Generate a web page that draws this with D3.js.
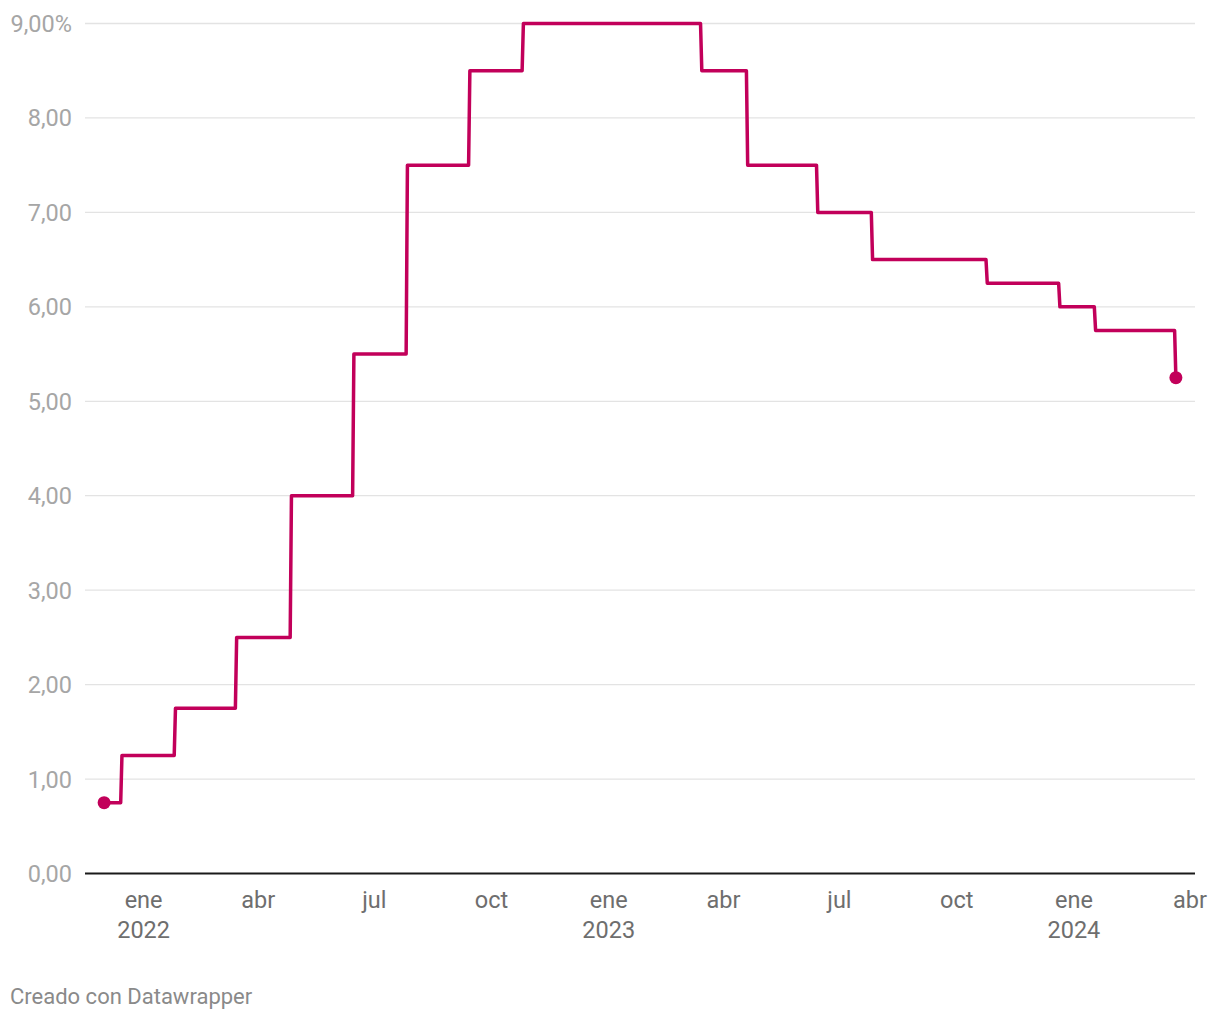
<!DOCTYPE html>
<html><head><meta charset="utf-8">
<script src="https://cdn.jsdelivr.net/npm/d3@7"></script>
<style>
body{margin:0;background:#fff;font-family:Roboto,"Noto Sans",sans-serif;}
</style></head>
<body><svg id="c" width="1220" height="1020"></svg>
<script>
// Change dates and rate values (%)
const changeDates = ["2021-12-01","2021-12-15","2022-01-26","2022-03-15","2022-04-27","2022-06-15","2022-07-27","2022-09-14","2022-10-26","2023-03-15","2023-04-20","2023-06-14","2023-07-27","2023-10-25","2023-12-21","2024-01-18","2024-03-21"];
const rates = [0.75,1.25,1.75,2.5,4.0,5.5,7.5,8.5,9.0,8.5,7.5,7.0,6.5,6.25,6.0,5.75,5.25];
const yTicks = [0,1,2,3,4,5,6,7,8,9];
const yTickLabels = ["0,00","1,00","2,00","3,00","4,00","5,00","6,00","7,00","8,00","9,00%"];
const xTickDates = ["2022-01-01","2022-04-01","2022-07-01","2022-10-01","2023-01-01","2023-04-01","2023-07-01","2023-10-01","2024-01-01","2024-04-01"];
const xTickLabels = [["ene","2022"],["abr"],["jul"],["oct"],["ene","2023"],["abr"],["jul"],["oct"],["ene","2024"],["abr"]];
const xDomain = ["2021-11-16","2024-04-05"];

const parse = d3.utcParse("%Y-%m-%d");
const svg = d3.select("#c");
const x = d3.scaleUtc().domain(xDomain.map(parse)).range([85,1195]);
const y = d3.scaleLinear().domain([0,9]).range([873.5,23.5]);

// gridlines
svg.append("g").selectAll("line").data(yTicks.filter(v=>v>0)).join("line")
  .attr("x1",85).attr("x2",1195).attr("y1",d=>y(d)).attr("y2",d=>y(d))
  .attr("stroke","#e3e3e3").attr("stroke-width",1.3);

// y labels
svg.append("g").selectAll("text").data(yTicks).join("text")
  .attr("x",72).attr("y",d=>y(d)).attr("dy","0.36em").attr("text-anchor","end")
  .attr("fill","#a6a6a6").attr("font-size",23.5).text((d,i)=>yTickLabels[i]);

// baseline
svg.append("line").attr("x1",85).attr("x2",1195).attr("y1",y(0)).attr("y2",y(0))
  .attr("stroke","#1a1a1a").attr("stroke-width",2);

// x labels
const xl = svg.append("g").selectAll("text").data(xTickDates).join("text")
  .attr("x",d=>x(parse(d))).attr("y",908).attr("text-anchor","middle")
  .attr("fill","#6e6e6e").attr("font-size",23.5);
xl.each(function(d,i){
  const t=d3.select(this);
  xTickLabels[i].forEach((s,j)=>t.append("tspan").attr("x",x(parse(d))).attr("dy",j?30:0).text(s));
});

// build step points
const pts=[];
changeDates.forEach((d,i)=>{
  const dt=parse(d);
  if(i>0){ pts.push([d3.utcDay.offset(dt,-1),rates[i-1]]); }
  pts.push([dt,rates[i]]);
});
svg.append("path").datum(pts)
  .attr("d",d3.line().x(d=>x(d[0])).y(d=>y(d[1])))
  .attr("fill","none").attr("stroke","#c2005a").attr("stroke-width",3.5).attr("stroke-linejoin","round");

// endpoints
const ends=[0,rates.length-1];
svg.append("g").selectAll("circle").data(ends).join("circle")
  .attr("cx",i=>x(parse(changeDates[i]))).attr("cy",i=>y(rates[i])).attr("r",6.5).attr("fill","#c2005a");

svg.append("text").attr("x",10).attr("y",1004).attr("fill","#8a8a8a").attr("font-size",22).text("Creado con Datawrapper");
</script></body></html>
